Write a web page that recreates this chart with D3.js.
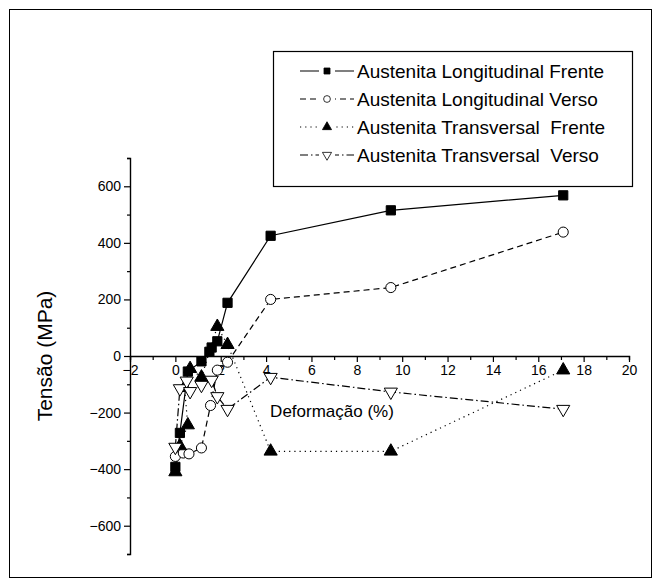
<!DOCTYPE html>
<html>
<head>
<meta charset="utf-8">
<script src="https://cdn.jsdelivr.net/npm/d3@7"></script>
<style>
  body { margin: 0; background: #fff; }
  text { font-family: Arial, "Liberation Sans", sans-serif; fill: #000; }
</style>
</head>
<body>
<div id="chart"></div>
<script>
// values
var seriesNames = [
    "Austenita Longitudinal Frente",
    "Austenita Longitudinal Verso",
    "Austenita Transversal  Frente",
    "Austenita Transversal  Verso"
];
var longFrenteX = [0, 0.2, 0.55, 1.15, 1.5, 1.6, 1.85, 2.3, 4.2, 9.5, 17.1];
var longFrenteY = [-392, -272, -55, -19, 15, 30, 52, 188, 425, 515, 568];
var longVersoX = [0, 0.35, 0.6, 1.15, 1.55, 1.85, 2.3, 4.2, 9.5, 17.1];
var longVersoY = [-355, -343, -346, -325, -175, -50, -22, 200, 242, 438];
var transFrenteX = [0, 0.2, 0.55, 0.4, 0.65, 1.15, 1.85, 2.3, 4.2, 9.5, 17.1];
var transFrenteY = [-410, -318, -244, -112, -45, -75, 104, 40, -337, -337, -50];
var transVersoX = [0, 0.2, 0.5, 0.65, 1.15, 1.6, 1.85, 2.3, 4.2, 9.5, 17.1];
var transVersoY = [-322, -115, -88, -125, -103, -85, -143, -188, -75, -127, -188];
var xTicks = [-2, 0, 2, 4, 6, 8, 10, 12, 14, 16, 18, 20];
var yTicks = [-600, -400, -200, 0, 200, 400, 600];
var xLabel = "Deformação (%)";
var yLabel = "Tensão (MPa)";

var W = 661, H = 587;
var plot = {left: 130, right: 629, top: 158, bottom: 554};

var svg = d3.select('#chart').append('svg')
    .attr('width', W).attr('height', H);

// outer frame
svg.append('rect')
    .attr('x', 9.5).attr('y', 9.5)
    .attr('width', W - 19).attr('height', H - 19)
    .attr('fill', 'none').attr('stroke', '#000').attr('stroke-width', 1);

var x = d3.scaleLinear().domain([-2, 20]).range([plot.left, plot.right]);
var y = d3.scaleLinear().domain([-700, 700]).range([plot.bottom, plot.top]);

// x axis sits on y = 0
var gx = svg.append('g')
    .attr('transform', 'translate(0,' + y(0) + ')');
gx.call(d3.axisBottom(x).tickValues(d3.range(-2, 21, 1)).tickSize(4).tickFormat(''));
gx.call(function(g) {
    g.selectAll('.tick line').filter(function(d) { return d % 2 === 0; }).attr('y2', 6);
});
gx.append('g').call(d3.axisBottom(x).tickValues(xTicks).tickSize(0).tickPadding(9))
    .call(function(g) { g.select('.domain').remove(); })
    .selectAll('text').attr('font-size', 14).style('font-family', 'Arial, "Liberation Sans", sans-serif');

var gy = svg.append('g')
    .attr('transform', 'translate(' + plot.left + ',0)');
gy.call(d3.axisLeft(y).tickValues(d3.range(-700, 701, 100)).tickSize(3).tickFormat(''));
gy.call(function(g) {
    g.selectAll('.tick line').filter(function(d) { return d % 200 === 0; }).attr('x2', -6);
});
gy.append('g').call(d3.axisLeft(y).tickValues(yTicks).tickSize(0).tickPadding(9))
    .call(function(g) { g.select('.domain').remove(); })
    .selectAll('text').attr('font-size', 14).style('font-family', 'Arial, "Liberation Sans", sans-serif');

svg.selectAll('.domain').attr('stroke-width', 1.4);
svg.selectAll('.tick line').attr('stroke-width', 1.2);

svg.append('text')
    .attr('x', 332).attr('y', 417)
    .attr('text-anchor', 'middle').attr('font-size', 17)
    .text(xLabel);

svg.append('text')
    .attr('transform', 'translate(52,' + y(0) + ') rotate(-90)')
    .attr('text-anchor', 'middle').attr('font-size', 21)
    .text(yLabel);

// marker drawing
var sym = {
    square: d3.symbol().type(d3.symbolSquare),
    circle: d3.symbol().type(d3.symbolCircle),
    up: d3.symbol().type(d3.symbolTriangle),
    down: d3.symbol().type(d3.symbolTriangle)
};

var series = [
    {name: seriesNames[0], xs: longFrenteX, ys: longFrenteY, dash: null, marker: 'square', fill: '#000'},
    {name: seriesNames[1], xs: longVersoX, ys: longVersoY, dash: '6,4', marker: 'circle', fill: '#fff'},
    {name: seriesNames[2], xs: transFrenteX, ys: transFrenteY, dash: '1.2,4', marker: 'up', fill: '#000'},
    {name: seriesNames[3], xs: transVersoX, ys: transVersoY, dash: '8,3,1.5,3', marker: 'down', fill: '#fff'}
];

function markerPath(kind, size) {
    return sym[kind].size(size)();
}
function markerTransform(kind, px, py) {
    if (kind === 'down') return 'translate(' + px + ',' + py + ') rotate(180)';
    return 'translate(' + px + ',' + py + ')';
}
var markerSize = {square: 85, circle: 80, up: 75, down: 75};

var line = d3.line().x(function(d) { return x(d[0]); }).y(function(d) { return y(d[1]); });

series.forEach(function(s) {
    var pts = s.xs.map(function(v, i) { return [v, s.ys[i]]; });
    svg.append('path')
        .datum(pts)
        .attr('d', line)
        .attr('fill', 'none')
        .attr('stroke', '#000')
        .attr('stroke-width', 1.2)
        .attr('stroke-dasharray', s.dash);
});

series.forEach(function(s) {
    var pts = s.xs.map(function(v, i) { return [v, s.ys[i]]; });
    svg.append('g').selectAll('path')
        .data(pts).join('path')
        .attr('d', markerPath(s.marker, markerSize[s.marker]))
        .attr('transform', function(d) { return markerTransform(s.marker, x(d[0]), y(d[1])); })
        .attr('fill', s.fill)
        .attr('stroke', '#000')
        .attr('stroke-width', 1);
});

// legend
var leg = {x: 273, y: 51, w: 359, h: 135};
svg.append('rect')
    .attr('x', leg.x + 0.5).attr('y', leg.y + 0.5)
    .attr('width', leg.w).attr('height', leg.h)
    .attr('fill', '#fff').attr('stroke', '#000').attr('stroke-width', 1.2);

var rowY = [71, 99, 127, 155];
series.forEach(function(s, i) {
    var g = svg.append('g');
    g.append('line')
        .attr('x1', 300).attr('x2', 354)
        .attr('y1', rowY[i]).attr('y2', rowY[i])
        .attr('stroke', '#000').attr('stroke-width', 1.2)
        .attr('stroke-dasharray', s.dash);
    g.append('rect').attr('x', 319).attr('y', rowY[i] - 6).attr('width', 16).attr('height', 12).attr('fill', '#fff');
    g.append('path')
        .attr('d', markerPath(s.marker, 36))
        .attr('transform', markerTransform(s.marker, 327, rowY[i]))
        .attr('fill', s.fill).attr('stroke', '#000').attr('stroke-width', 0.8);
    g.append('text')
        .attr('x', 357).attr('y', rowY[i] + 7)
        .attr('font-size', 19)
        .style('white-space', 'pre')
        .text(s.name);
});
</script>
</body>
</html>
